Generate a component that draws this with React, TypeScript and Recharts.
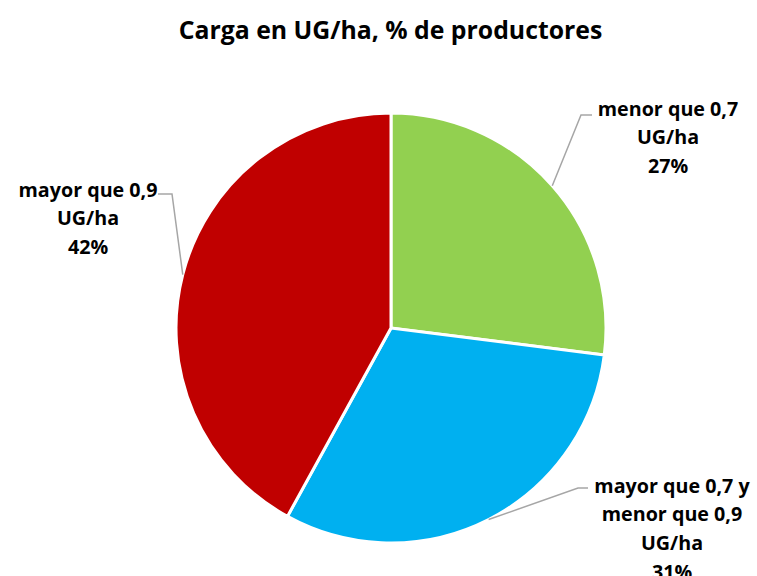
import { PieChart, Pie, Cell } from "recharts";

const CATEGORIES = ["menor que 0,7 UG/ha", "mayor que 0,7 y menor que 0,9 UG/ha", "mayor que 0,9 UG/ha"];
const SHARES = [27, 31, 42];
const LABEL_LINES = [
  ["menor que 0,7", "UG/ha"],
  ["mayor que 0,7 y", "menor que 0,9", "UG/ha"],
  ["mayor que 0,9", "UG/ha"],
];
const COLORS = ["#92D050", "#00B0F0", "#C00000"];

// where each label sits, relative to the pie centre (elbow of leader line, text centre, first line)
const LABEL_LAYOUT = [
  { elbowX: 190, elbowY: -213, endX: 201, textX: 277, textY: -220 },
  { elbowX: 187, elbowY: 160, endX: 197, textX: 281, textY: 157 },
  { elbowX: -219, elbowY: -134, endX: -233, textX: -303, textY: -139 },
];

const data = CATEGORIES.map((name, i) => ({ name, value: SHARES[i], lines: LABEL_LINES[i] }));

const FONT = "'Open Sans', Lato, sans-serif";
const RAD = Math.PI / 180;

function renderLabel(props: any) {
  const { cx, cy, midAngle, outerRadius, index, payload, value } = props;
  const lay = LABEL_LAYOUT[index];
  const sx = cx + outerRadius * Math.cos(-midAngle * RAD);
  const sy = cy + outerRadius * Math.sin(-midAngle * RAD);
  const ex = cx + lay.elbowX;
  const ey = cy + lay.elbowY;
  const hx = cx + lay.endX;
  const lines: string[] = [...(payload.lines ?? payload.payload?.lines ?? []), `${value}%`];
  return (
    <g>
      <polyline points={`${sx},${sy} ${ex},${ey} ${hx},${ey}`} fill="none" stroke="#A6A6A6" strokeWidth={1.5} />
      <text
        x={cx + lay.textX}
        y={cy + lay.textY}
        textAnchor="middle"
        fill="#000"
        style={{ fontFamily: FONT, fontWeight: 700, fontSize: 19.7 }}
      >
        {lines.map((l, i) => (
          <tspan key={i} x={cx + lay.textX} y={cy + lay.textY + i * 28.7} dominantBaseline="central">
            {l}
          </tspan>
        ))}
      </text>
    </g>
  );
}

export default function App() {
  return (
    <div style={{ position: "absolute", left: 0, top: 0, width: 757, height: 576, background: "#fff" }}>
      <div
        style={{
          position: "absolute",
          left: 0,
          width: 757,
          top: 12,
          textAlign: "center",
          paddingLeft: 24,
          boxSizing: "border-box",
          fontFamily: FONT,
          fontWeight: 700,
          fontSize: 24.8,
          color: "#000",
        }}
      >
        Carga en UG/ha, % de productores
      </div>
      <PieChart width={757} height={576} margin={{ top: 0, right: 0, bottom: 0, left: 0 }}>
        <Pie
          data={data}
          dataKey="value"
          nameKey="name"
          cx={391}
          cy={328}
          outerRadius={215}
          startAngle={90}
          endAngle={-270}
          stroke="#fff"
          strokeWidth={3}
          label={renderLabel}
          labelLine={false}
          isAnimationActive={false}
        >
          {data.map((d, i) => (
            <Cell key={d.name} fill={COLORS[i]} />
          ))}
        </Pie>
      </PieChart>
    </div>
  );
}
